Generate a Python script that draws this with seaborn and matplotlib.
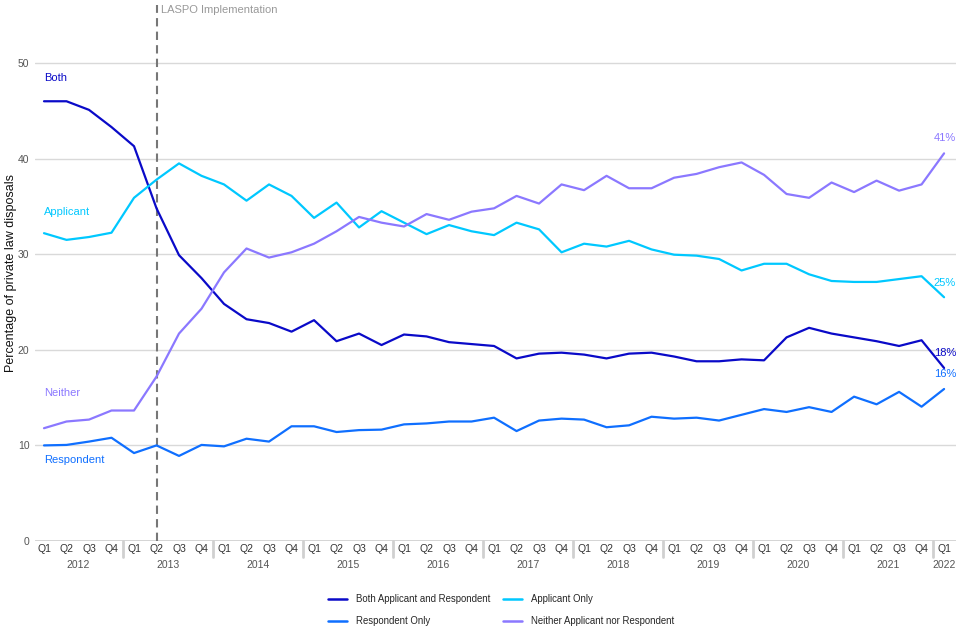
import matplotlib
matplotlib.use("Agg")
import matplotlib.pyplot as plt
import matplotlib.transforms as mtransforms
from matplotlib.lines import Line2D
import seaborn as sns
import pandas as pd

years = ["2012", "2013", "2014", "2015", "2016", "2017", "2018", "2019", "2020", "2021", "2022"]
quarters = ["Q1", "Q2", "Q3", "Q4"]
periods = [f"{q} {y}" for y in years for q in quarters][:41]
q_labels = [p.split()[0] for p in periods]

both = [46.0, 46.0, 45.1, 43.3, 41.3, 34.8, 29.9, 27.5, 24.8, 23.2, 22.8, 21.9, 23.1,
        20.9, 21.7, 20.5, 21.6, 21.4, 20.8, 20.6, 20.4, 19.1, 19.6, 19.7, 19.5, 19.1,
        19.6, 19.7, 19.3, 18.8, 18.8, 19.0, 18.9, 21.3, 22.3, 21.7, 21.3, 20.9, 20.4,
        21.0, 18.1]
respondent = [10.0, 10.05, 10.4, 10.8, 9.2, 10.0, 8.9, 10.05, 9.9, 10.7, 10.4, 12.0, 12.0,
              11.4, 11.6, 11.65, 12.2, 12.3, 12.5, 12.5, 12.9, 11.5, 12.6, 12.8, 12.7, 11.9,
              12.1, 13.0, 12.8, 12.9, 12.6, 13.2, 13.8, 13.5, 14.0, 13.5, 15.1, 14.3, 15.6,
              14.05, 15.9]
applicant = [32.2, 31.5, 31.8, 32.25, 35.9, 37.8, 39.5, 38.2, 37.3, 35.6, 37.3, 36.1, 33.8,
             35.4, 32.8, 34.5, 33.3, 32.1, 33.05, 32.4, 32.0, 33.3, 32.6, 30.2, 31.1, 30.8,
             31.4, 30.5, 29.95, 29.85, 29.5, 28.3, 29.0, 29.0, 27.9, 27.2, 27.1, 27.1, 27.4,
             27.7, 25.5]
neither = [11.8, 12.5, 12.7, 13.65, 13.65, 17.2, 21.7, 24.3, 28.1, 30.6, 29.65, 30.2, 31.1,
           32.4, 33.9, 33.3, 32.9, 34.2, 33.6, 34.45, 34.8, 36.1, 35.3, 37.3, 36.7, 38.2,
           36.9, 36.9, 38.0, 38.4, 39.1, 39.6, 38.3, 36.3, 35.9, 37.5, 36.5, 37.7, 36.65,
           37.3, 40.55]

series_names = ["Both Applicant and Respondent", "Respondent Only", "Applicant Only",
                "Neither Applicant nor Respondent"]
series_values = [both, respondent, applicant, neither]
colors = ["#0a0ac8", "#0f6fff", "#00c8ff", "#8b78ff"]
short_labels = ["Both", "Respondent", "Applicant", "Neither"]
short_label_y = [48.4, 8.5, 34.4, 15.5]
end_labels = ["18%", "16%", "25%", "41%"]
end_label_y = [19.7, 17.5, 27.0, 42.2]
laspo_index = 5

rows = []
for name, vals in zip(series_names, series_values):
    for i, v in enumerate(vals):
        rows.append({"idx": i, "period": periods[i], "series": name, "value": v})
df = pd.DataFrame(rows)

sns.set_theme(style="white")
plt.rcParams["font.family"] = ["Liberation Sans", "DejaVu Sans"]

fig = plt.figure(figsize=(9.6, 6.4), dpi=100)
ax = fig.add_axes([35 / 960, (640 - 541) / 640, (956 - 35) / 960, (541 - 5) / 640])

sns.lineplot(data=df, x="idx", y="value", hue="series", hue_order=series_names,
             palette=colors, linewidth=1.6, ax=ax, legend=False)

n = len(periods)
ax.set_xlim(-0.4, n - 1 + 0.53)
ax.set_ylim(0, 56.07)
for s in ax.spines.values():
    s.set_visible(False)

ax.set_yticks([0, 10, 20, 30, 40, 50])
ax.set_yticklabels(["0", "10", "20", "30", "40", "50"], fontsize=7.5, color="#555555")
for yv in [10, 20, 30, 40, 50]:
    ax.axhline(yv, color="#d9d9d9", linewidth=1, zorder=0)
ax.axhline(0, color="#d0d0d0", linewidth=2, zorder=0)
ax.tick_params(axis="y", length=0, pad=4)

ax.set_xticks(range(n))
ax.set_xticklabels(q_labels, fontsize=7.5, color="#333333")
ax.tick_params(axis="x", length=0, pad=2.5)
ax.set_xlabel("")
ax.set_ylabel("Percentage of private law disposals", fontsize=9, color="#111111")
ax.yaxis.set_label_coords(-0.0195, 0.5)

trans = mtransforms.blended_transform_factory(ax.transData, ax.transAxes)
for k, y in enumerate(years):
    idxs = [i for i in range(n) if periods[i].endswith(y)]
    cx = (idxs[0] + idxs[-1]) / 2
    ax.text(cx, -0.045, y, transform=trans, ha="center", va="center",
            fontsize=7.5, color="#555555")
    if idxs[0] > 0:
        ax.plot([idxs[0] - 0.5, idxs[0] - 0.5], [0, -0.03], transform=trans,
                color="#d0d0d0", linewidth=2, clip_on=False)

ax.axvline(laspo_index, ymin=0, ymax=1, color="#777777", linewidth=1.5,
           linestyle=(0, (4, 2.5)), zorder=1)
ax.text(laspo_index + 0.2, 0.99, "LASPO Implementation", transform=trans,
        ha="left", va="center", fontsize=8, color="#999999")

for lab, ly, c in zip(short_labels, short_label_y, colors):
    ax.text(0, ly, lab, ha="left", va="center", fontsize=8, color=c)
tr_end = mtransforms.blended_transform_factory(ax.transAxes, ax.transData)
for lab, ly, c in zip(end_labels, end_label_y, colors):
    ax.text(1.0, ly, lab, transform=tr_end, ha="right", va="center", fontsize=8, color=c)

handles = [Line2D([0], [0], color=c, linewidth=1.8) for c in colors]
fig.legend(handles, series_names, loc="center", bbox_to_anchor=(0.522, 0.047), ncol=2,
           frameon=False, fontsize=6.9, handlelength=2.0, columnspacing=1.3,
           labelspacing=1.25, handletextpad=0.9)

fig.savefig("out.png", dpi=100)
